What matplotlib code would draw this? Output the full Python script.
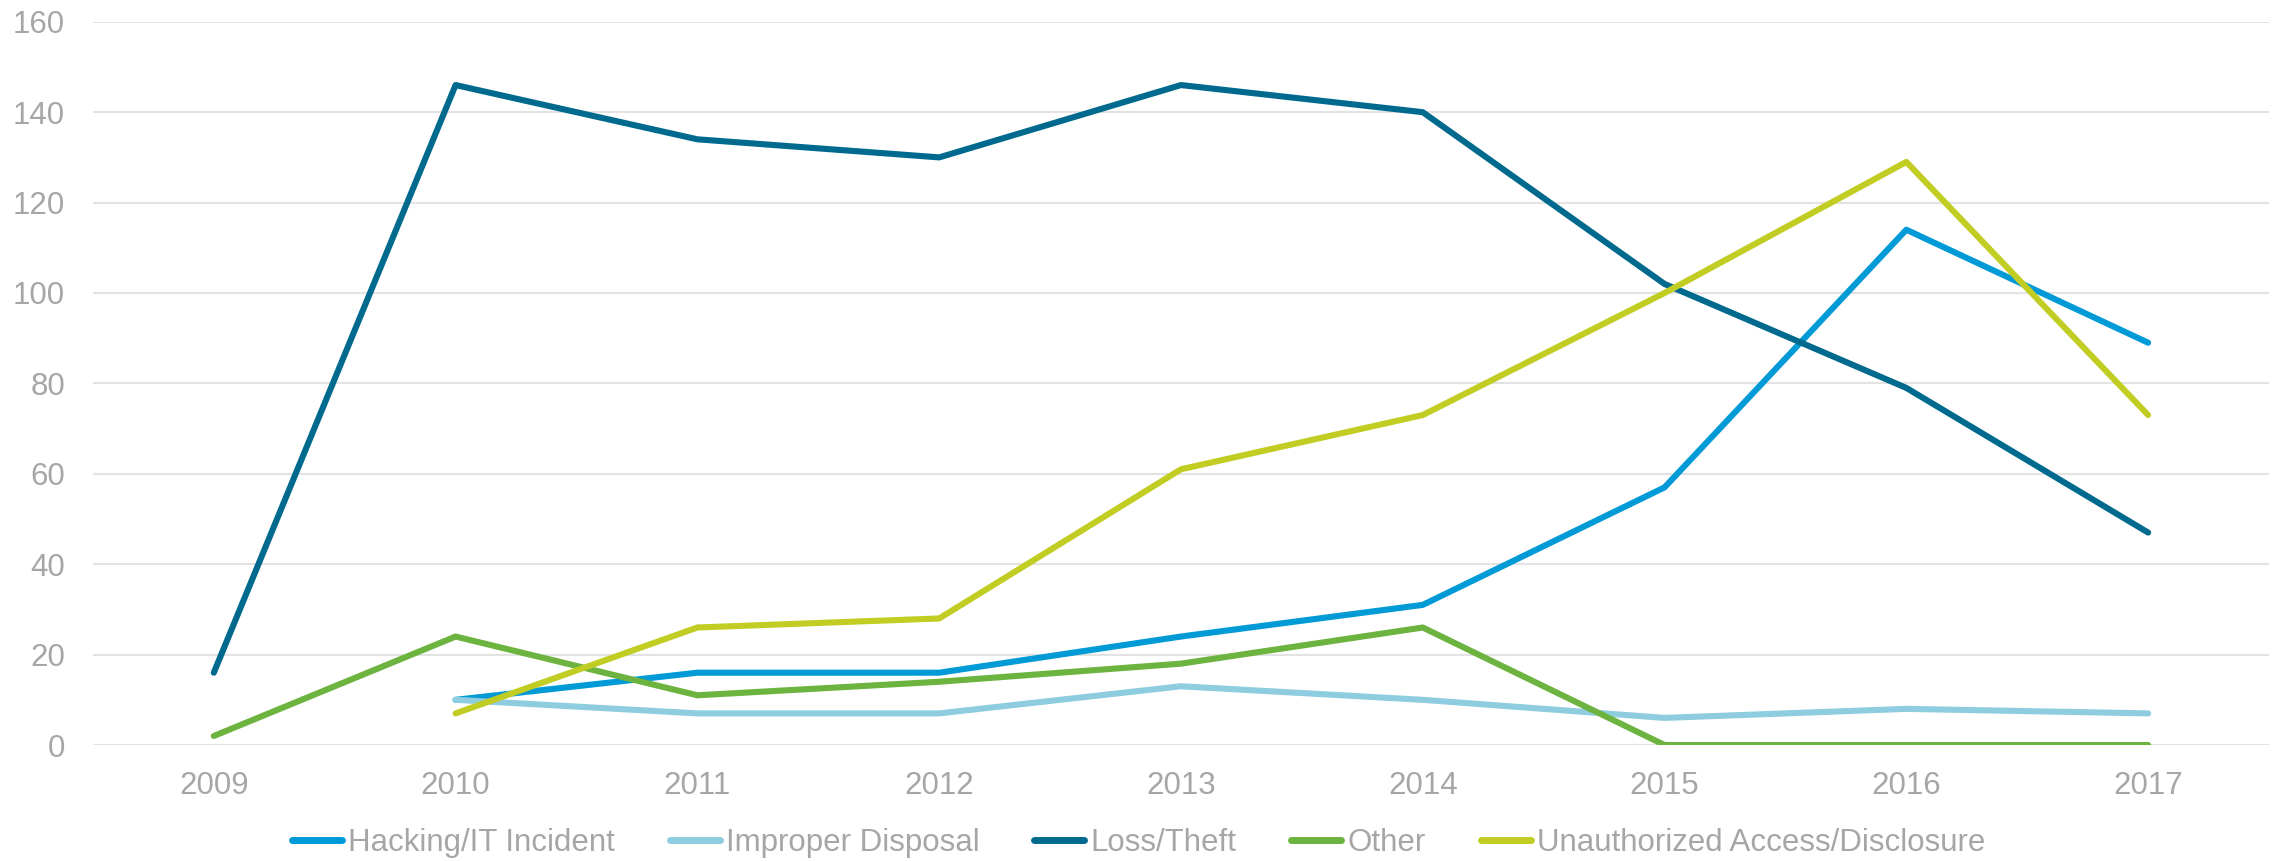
import matplotlib
matplotlib.use("Agg")
import matplotlib.pyplot as plt
import numpy as np

years = ["2009", "2010", "2011", "2012", "2013", "2014", "2015", "2016", "2017"]

hacking = [None, 10, 16, 16, 24, 31, 57, 114, 89]
improper = [None, 10, 7, 7, 13, 10, 6, 8, 7]
loss_theft = [16, 146, 134, 130, 146, 140, 102, 79, 47]
other = [2, 24, 11, 14, 18, 26, 0, 0, 0]
unauthorized = [None, 7, 26, 28, 61, 73, 100, 129, 73]

series_names = ["Hacking/IT Incident", "Improper Disposal", "Loss/Theft",
                "Other", "Unauthorized Access/Disclosure"]
series_values = [hacking, improper, loss_theft, other, unauthorized]
series_colors = ["#009AD7", "#8ECDE0", "#006A8E", "#6CB33F", "#C2CD23"]

y_ticks = [0, 20, 40, 60, 80, 100, 120, 140, 160]

plt.rcParams["font.family"] = ["Liberation Sans", "DejaVu Sans"]
text_grey = "#A6A6A6"

fig = plt.figure(figsize=(22.77, 8.61), dpi=100)
ax = fig.add_axes([0.0408, 0.1347, 0.9557, 0.84])

x = np.arange(len(years))
for name, vals, col in zip(series_names, series_values, series_colors):
    v = np.array([np.nan if a is None else a for a in vals], dtype=float)
    ax.plot(x, v, color=col, linewidth=4.4, solid_capstyle="round",
            solid_joinstyle="round", label=name, zorder=3)

ax.set_xlim(-0.5, len(years) - 0.5)
ax.set_ylim(0, 160)
ax.set_xticks(x)
ax.set_xticklabels(years)
ax.set_yticks(y_ticks)
ax.set_yticklabels([str(t) for t in y_ticks])
ax.tick_params(axis="both", length=0, labelsize=22.5, colors=text_grey)
ax.tick_params(axis="x", pad=19)
ax.tick_params(axis="y", pad=20)
for s in ax.spines.values():
    s.set_visible(False)
ax.grid(axis="y", color="#E3E3E3", linewidth=1.5, zorder=0)
ax.set_axisbelow(True)

leg = fig.legend(loc="center", bbox_to_anchor=(0.5, 0.021), ncol=5,
                 frameon=False, fontsize=22.5, handlelength=1.6,
                 handletextpad=0.2, columnspacing=1.75, borderaxespad=0)
for line in leg.get_lines():
    line.set_linewidth(5.0)
    line.set_solid_capstyle("round")
for t in leg.get_texts():
    t.set_color(text_grey)

fig.savefig("out.png", dpi=100)
